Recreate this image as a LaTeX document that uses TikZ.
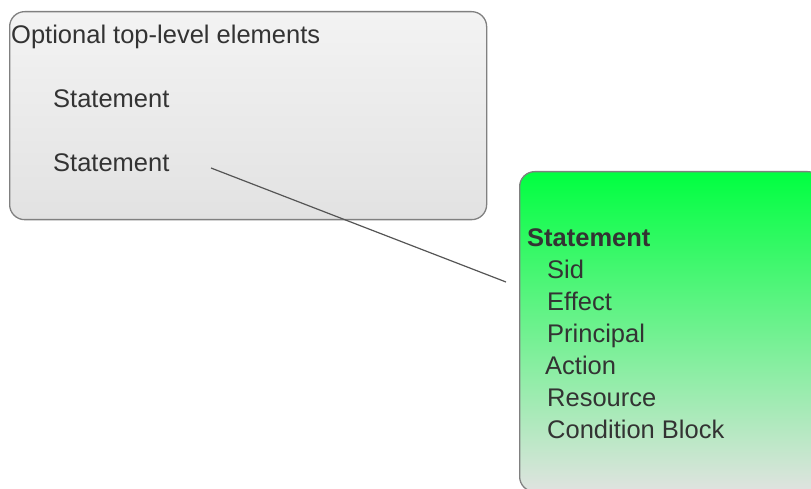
\documentclass[tikz,border=0pt]{standalone}
\usepackage{fontspec}
\setmainfont{Liberation Sans}
\definecolor{txt}{HTML}{333333}
\definecolor{edge}{HTML}{808080}
\definecolor{grayTop}{HTML}{F3F3F3}
\definecolor{grayBot}{HTML}{E2E2E2}
\definecolor{greenTop}{HTML}{00FF40}
\definecolor{greenBot}{HTML}{E0E3E0}
\definecolor{linkc}{HTML}{555555}
\begin{document}
\begin{tikzpicture}[x=1pt,y=1pt,
  panel/.style={draw=edge, line width=1.3pt, rounded corners=15pt, inner sep=0pt, anchor=north west},
  lbl/.style={anchor=base west, inner sep=0pt, text=txt, font=\fontsize{25.5}{30}\selectfont},
  link/.style={draw=linkc, line width=1.2pt}]
\useasboundingbox (0,0) rectangle (811,488);
\clip (0,0) rectangle (811,488);
\node[panel, minimum width=477pt, minimum height=208pt, top color=grayTop, bottom color=grayBot] (box1) at (9,477) {};
\node[panel, minimum width=303pt, minimum height=320pt, top color=greenTop, bottom color=greenBot] (box2) at (519,317) {};
\node[lbl] (title) at (11,444) {Optional top-level elements};
\node[lbl] (st1) at (53,380) {Statement};
\node[lbl] (st2) at (53,316) {Statement};
\node[lbl, font=\fontsize{25.5}{30}\selectfont\bfseries] (sthead) at (527,242) {Statement};
\node[lbl] (sid) at (547,210) {Sid};
\node[lbl] (effect) at (547,178) {Effect};
\node[lbl] (principal) at (547,146) {Principal};
\node[lbl] (action) at (545,114) {Action};
\node[lbl] (resource) at (547,82) {Resource};
\node[lbl] (cond) at (547,50) {Condition Block};
\coordinate (linkA) at (211,320);
\coordinate (linkB) at (506,206);
\draw[link] (linkA) -- (linkB);
\end{tikzpicture}
\end{document}
